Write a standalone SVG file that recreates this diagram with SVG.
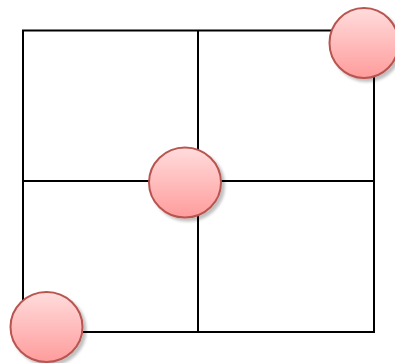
<svg xmlns="http://www.w3.org/2000/svg" width="395" height="363" viewBox="0 0 395 363">
<defs>
<linearGradient id="g" x1="0" y1="0" x2="0" y2="1">
<stop offset="0" stop-color="#ffdcdc"/>
<stop offset="1" stop-color="#ff9c9c"/>
</linearGradient>
<filter id="sh" x="-30%" y="-30%" width="170%" height="170%">
<feGaussianBlur in="SourceAlpha" stdDeviation="1.7"/>
<feOffset dx="3" dy="3" result="b"/>
<feComponentTransfer><feFuncA type="linear" slope="0.25"/></feComponentTransfer>
<feMerge><feMergeNode/><feMergeNode in="SourceGraphic"/></feMerge>
</filter>
</defs>
<style>
.ln{fill:none;stroke:#000;stroke-width:2}
.nd{fill:url(#g);stroke:#b85450;stroke-width:2;filter:url(#sh)}
</style>
<g id="connectors">
<rect class="ln" x="23" y="30.5" width="351" height="301.5"/>
<line class="ln" x1="198" y1="30.5" x2="198" y2="332"/>
<line class="ln" x1="23" y1="181" x2="374" y2="181"/>
</g>
<g id="node-top-right"><ellipse class="nd" cx="364" cy="43" rx="34.5" ry="35"/></g>
<g id="node-center"><ellipse class="nd" cx="185" cy="182.5" rx="36" ry="35"/></g>
<g id="node-bottom-left"><ellipse class="nd" cx="46.5" cy="327" rx="36" ry="35"/></g>
</svg>
